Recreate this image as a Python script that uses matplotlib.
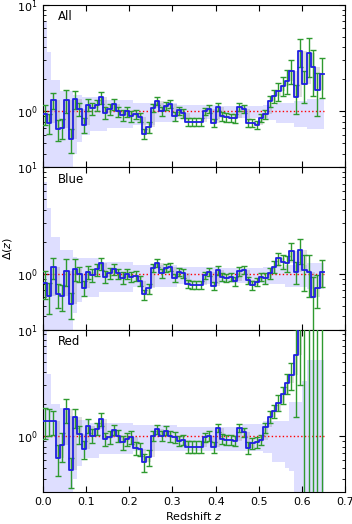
import matplotlib
matplotlib.use("Agg")
import matplotlib.pyplot as plt
import numpy as np
from matplotlib.ticker import LogLocator, NullFormatter, MultipleLocator

# bin edges: 65 bins of width 0.01 from z=0 to z=0.65
z_edges = np.round(np.arange(0.0, 0.6501, 0.01), 2)

panel_names = ["All", "Blue", "Red"]

# ratio Delta(z) per bin
all_ratio = [0.95, 0.78, 1.28, 0.68, 0.70, 1.28, 0.55, 1.30, 1.05, 0.75,
             1.15, 1.07, 1.15, 1.35, 0.97, 1.05, 1.17, 1.00, 0.92, 1.00,
             0.90, 0.94, 0.88, 0.62, 0.71, 1.08, 1.25, 1.00, 1.12, 1.17,
             0.90, 1.02, 0.96, 0.80, 0.80, 0.80, 0.80, 1.00, 1.05, 0.78,
             1.10, 0.90, 0.88, 0.87, 0.86, 1.10, 1.05, 0.78, 0.78, 0.75,
             0.87, 0.94, 1.25, 1.40, 1.56, 1.74, 1.94, 2.40, 1.35, 3.70,
             1.80, 3.50, 2.60, 1.60, 2.24]
blue_ratio = [0.82, 0.62, 1.15, 0.64, 0.62, 1.07, 0.52, 1.12, 1.00, 0.74,
              1.04, 0.98, 1.10, 1.25, 0.94, 1.01, 1.10, 1.01, 0.92, 1.00,
              0.94, 0.96, 0.86, 0.64, 0.73, 1.13, 1.26, 1.01, 1.13, 1.16,
              0.91, 1.04, 1.01, 0.80, 0.79, 0.79, 0.79, 0.97, 1.04, 0.77,
              1.08, 0.93, 0.92, 0.93, 0.85, 1.06, 1.09, 0.87, 0.78, 0.84,
              0.93, 0.91, 1.01, 1.17, 1.40, 1.30, 1.26, 1.64, 1.05, 1.68,
              1.09, 1.05, 0.61, 0.73, 1.05]
red_ratio = [1.40, 1.40, 1.38, 0.62, 0.82, 1.79, 0.48, 1.50, 1.05, 0.76,
             1.26, 1.01, 1.17, 1.45, 0.94, 0.98, 1.15, 1.01, 0.88, 0.94,
             0.98, 0.78, 0.76, 0.57, 0.64, 1.01, 1.17, 1.01, 1.13, 1.00,
             0.98, 0.91, 0.93, 0.80, 0.80, 0.80, 0.80, 0.98, 1.01, 0.79,
             1.19, 0.94, 0.92, 0.92, 0.91, 1.19, 1.09, 0.78, 0.86, 0.88,
             0.92, 1.21, 1.52, 1.73, 2.07, 2.47, 3.17, 3.79, 5.80, 15.0,
             30.0, 30.0, 30.0, 30.0, 30.0]

# error bars (absolute)
all_err = [0.20, 0.17, 0.22, 0.15, 0.15, 0.32, 0.14, 0.25, 0.15, 0.12,
           0.15, 0.14, 0.14, 0.18, 0.12, 0.12, 0.13, 0.11, 0.11, 0.11,
           0.10, 0.10, 0.09, 0.07, 0.08, 0.10, 0.11, 0.09, 0.10, 0.10,
           0.08, 0.09, 0.09, 0.07, 0.07, 0.07, 0.07, 0.08, 0.09, 0.07,
           0.10, 0.08, 0.08, 0.08, 0.08, 0.10, 0.09, 0.07, 0.07, 0.07,
           0.08, 0.10, 0.15, 0.20, 0.30, 0.35, 0.50, 0.60, 0.40, 1.10,
           0.60, 1.40, 1.20, 0.70, 0.90]
blue_err = [0.24, 0.20, 0.25, 0.16, 0.17, 0.30, 0.14, 0.26, 0.16, 0.12,
            0.15, 0.14, 0.14, 0.17, 0.12, 0.12, 0.13, 0.11, 0.11, 0.11,
            0.10, 0.10, 0.09, 0.07, 0.08, 0.10, 0.11, 0.09, 0.10, 0.10,
            0.08, 0.09, 0.09, 0.07, 0.07, 0.07, 0.07, 0.08, 0.09, 0.07,
            0.10, 0.08, 0.08, 0.08, 0.08, 0.10, 0.09, 0.07, 0.07, 0.07,
            0.08, 0.10, 0.12, 0.16, 0.18, 0.20, 0.22, 0.30, 0.25, 0.45,
            0.40, 0.45, 0.32, 0.25, 0.30]
red_err = [0.45, 0.40, 0.35, 0.20, 0.25, 0.45, 0.15, 0.30, 0.20, 0.15,
           0.18, 0.15, 0.15, 0.20, 0.13, 0.13, 0.13, 0.13, 0.13, 0.13,
           0.13, 0.11, 0.11, 0.11, 0.11, 0.11, 0.11, 0.11, 0.11, 0.11,
           0.11, 0.10, 0.10, 0.10, 0.10, 0.10, 0.10, 0.10, 0.10, 0.10,
           0.10, 0.10, 0.10, 0.10, 0.10, 0.10, 0.10, 0.10, 0.10, 0.10,
           0.10, 0.13, 0.20, 0.25, 0.35, 0.45, 0.70, 1.10, 4.30, 12.0,
           60.0, 60.0, 60.0, 60.0, 60.0]

# expected scatter band (upper / lower edge)
all_band_hi = [7.0, 3.6, 1.95, 1.95, 1.56, 1.56, 1.56, 1.42, 1.42, 1.35,
               1.35, 1.35, 1.35, 1.27, 1.27, 1.27, 1.27, 1.27, 1.27, 1.27,
               1.27, 1.20, 1.20, 1.20, 1.20, 1.20, 1.20, 1.20, 1.20, 1.20,
               1.20, 1.15, 1.15, 1.15, 1.15, 1.15, 1.15, 1.15, 1.15, 1.15,
               1.15, 1.12, 1.12, 1.12, 1.12, 1.12, 1.12, 1.12, 1.12, 1.12,
               1.12, 1.15, 1.15, 1.15, 1.20, 1.20, 1.20, 1.20, 1.25, 1.25,
               1.25, 1.30, 1.30, 1.30, 1.30]
all_band_lo = [0.1, 0.1, 0.1, 0.1, 0.1, 0.1, 0.1, 0.40, 0.52, 0.60,
               0.60, 0.66, 0.66, 0.66, 0.66, 0.70, 0.70, 0.70, 0.70, 0.70,
               0.70, 0.75, 0.75, 0.75, 0.75, 0.75, 0.80, 0.80, 0.80, 0.80,
               0.80, 0.84, 0.84, 0.84, 0.84, 0.84, 0.84, 0.84, 0.84, 0.84,
               0.84, 0.86, 0.86, 0.86, 0.86, 0.86, 0.86, 0.86, 0.86, 0.86,
               0.86, 0.83, 0.83, 0.83, 0.77, 0.77, 0.77, 0.77, 0.72, 0.72,
               0.72, 0.68, 0.68, 0.68, 0.68]
blue_band_hi = [7.3, 4.1, 2.2, 2.2, 1.68, 1.68, 1.68, 1.45, 1.40, 1.40,
                1.40, 1.40, 1.40, 1.30, 1.30, 1.30, 1.30, 1.30, 1.30, 1.30,
                1.30, 1.22, 1.22, 1.22, 1.22, 1.22, 1.22, 1.22, 1.22, 1.22,
                1.22, 1.17, 1.17, 1.17, 1.17, 1.17, 1.17, 1.17, 1.17, 1.17,
                1.17, 1.14, 1.14, 1.14, 1.14, 1.14, 1.14, 1.14, 1.14, 1.14,
                1.14, 1.16, 1.16, 1.16, 1.16, 1.16, 1.20, 1.20, 1.20, 1.20,
                1.20, 1.25, 1.25, 1.25, 1.25]
blue_band_lo = [0.1, 0.1, 0.1, 0.1, 0.1, 0.1, 0.1, 0.43, 0.55, 0.61,
                0.61, 0.61, 0.61, 0.68, 0.68, 0.68, 0.68, 0.68, 0.68, 0.68,
                0.68, 0.76, 0.76, 0.76, 0.76, 0.76, 0.76, 0.76, 0.76, 0.76,
                0.76, 0.80, 0.80, 0.80, 0.80, 0.80, 0.80, 0.80, 0.80, 0.80,
                0.80, 0.82, 0.82, 0.82, 0.82, 0.82, 0.82, 0.82, 0.82, 0.82,
                0.82, 0.80, 0.80, 0.80, 0.80, 0.80, 0.76, 0.76, 0.76, 0.76,
                0.76, 0.72, 0.72, 0.72, 0.72]
red_band_hi = [12.0, 3.8, 2.0, 2.0, 1.85, 1.85, 1.55, 1.55, 1.42, 1.42,
               1.42, 1.32, 1.32, 1.32, 1.32, 1.32, 1.32, 1.32, 1.32, 1.32,
               1.32, 1.28, 1.28, 1.28, 1.28, 1.28, 1.28, 1.28, 1.28, 1.28,
               1.28, 1.22, 1.22, 1.22, 1.22, 1.22, 1.22, 1.22, 1.22, 1.22,
               1.22, 1.22, 1.22, 1.22, 1.22, 1.22, 1.30, 1.30, 1.30, 1.30,
               1.30, 1.38, 1.38, 1.38, 1.38, 1.38, 1.38, 2.10, 2.10, 2.10,
               3.30, 5.20, 5.20, 5.20, 5.20]
red_band_lo = [0.1, 0.1, 0.1, 0.1, 0.1, 0.1, 0.1, 0.40, 0.53, 0.62,
               0.62, 0.62, 0.62, 0.68, 0.68, 0.68, 0.68, 0.68, 0.68, 0.68,
               0.68, 0.73, 0.73, 0.73, 0.73, 0.73, 0.73, 0.73, 0.73, 0.73,
               0.73, 0.73, 0.73, 0.73, 0.73, 0.73, 0.73, 0.73, 0.73, 0.73,
               0.73, 0.73, 0.73, 0.73, 0.73, 0.73, 0.72, 0.72, 0.72, 0.72,
               0.72, 0.70, 0.70, 0.57, 0.57, 0.57, 0.50, 0.47, 0.1, 0.1,
               0.1, 0.1, 0.1, 0.1, 0.1]

panels = [
    (all_ratio, all_err, all_band_lo, all_band_hi),
    (blue_ratio, blue_err, blue_band_lo, blue_band_hi),
    (red_ratio, red_err, red_band_lo, red_band_hi),
]


def steps(vals):
    vals = np.asarray(vals, dtype=float)
    return np.append(vals, vals[-1])


fig, axes = plt.subplots(3, 1, figsize=(3.52, 5.24), dpi=100, sharex=True)
fig.subplots_adjust(left=0.121, right=0.9815, top=0.991, bottom=0.061, hspace=0)

z_mid = 0.5 * (z_edges[:-1] + z_edges[1:])

for ax, name, (ratio, err, band_lo, band_hi) in zip(axes, panel_names, panels):
    ratio = np.asarray(ratio, dtype=float)
    err = np.asarray(err, dtype=float)

    # expected scatter band
    ax.fill_between(z_edges, steps(band_lo), steps(band_hi), step='post',
                    color='blue', alpha=0.13, lw=0, zorder=1)

    # unity line
    ax.plot([z_edges[0], z_edges[-1]], [1, 1], color='red', ls=':', lw=1, zorder=2)

    # shading between neighbouring bins
    prev = np.concatenate([[ratio[0]], ratio[:-1]])
    ax.fill_between(z_edges, steps(np.minimum(prev, ratio)), steps(np.maximum(prev, ratio)),
                    step='post', color='gray', alpha=0.25, lw=0, zorder=2)

    # error bars
    lower = np.clip(ratio - err, 0.01, None)
    ax.errorbar(z_mid, ratio, yerr=[ratio - lower, err], fmt='none',
                ecolor='#2f9a2f', elinewidth=1, capsize=2.5, capthick=1, zorder=3)

    # ratio histogram
    ax.step(z_edges, steps(ratio), where='post', color='#1f1fe0', lw=1.3, zorder=4)

    ax.set_yscale('log')
    ax.set_ylim(0.3, 10)
    ax.set_xlim(0.0, 0.7)
    ax.yaxis.set_major_locator(LogLocator(base=10))
    ax.yaxis.set_minor_locator(LogLocator(base=10, subs=np.arange(2, 10)))
    ax.yaxis.set_minor_formatter(NullFormatter())
    ax.xaxis.set_major_locator(MultipleLocator(0.1))
    ax.tick_params(which='both', direction='in', top=True, right=True, labelsize=8)
    ax.tick_params(which='major', length=4)
    ax.tick_params(which='minor', length=2)
    ax.text(0.05, 0.925, name, transform=ax.transAxes, fontsize=8.5,
            ha='left', va='center')

axes[1].set_ylabel(r'$\Delta(z)$', fontsize=8, labelpad=2)
axes[2].set_xlabel(r'Redshift $z$', fontsize=8, labelpad=2)

fig.savefig('out.png', dpi=100)
